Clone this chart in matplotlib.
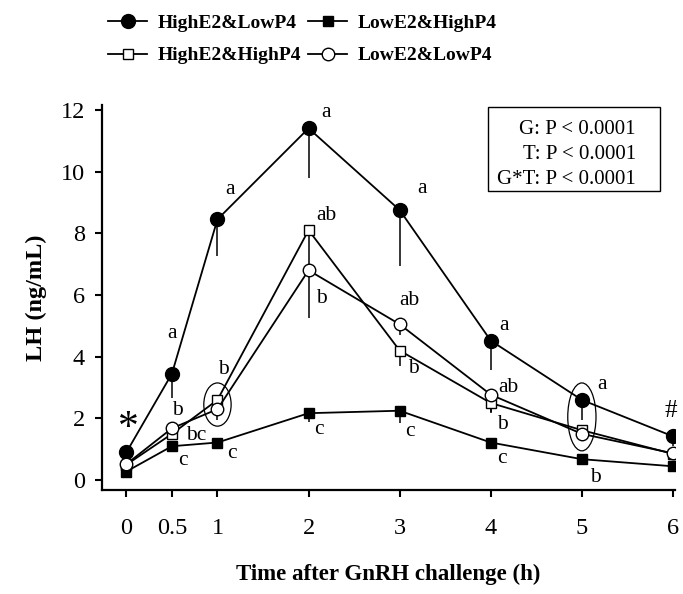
import matplotlib
matplotlib.use("Agg")
import matplotlib.pyplot as plt
from matplotlib.patches import Ellipse, Rectangle

plt.rcParams["font.family"] = ["Liberation Serif", "DejaVu Serif"]

# time points (h)
hours = [0, 0.5, 1, 2, 3, 4, 5, 6]

# LH means (ng/mL)
high_e2_low_p4 = [0.9, 3.45, 8.45, 11.4, 8.75, 4.52, 2.6, 1.42]
low_e2_high_p4 = [0.28, 1.1, 1.22, 2.17, 2.25, 1.22, 0.68, 0.45]
high_e2_high_p4 = [0.5, 1.5, 2.6, 8.1, 4.2, 2.5, 1.62, 0.85]
low_e2_low_p4 = [0.52, 1.68, 2.3, 6.8, 5.05, 2.77, 1.5, 0.87]

# lower error (SEM) for each series
err_hl = [0.1, 0.8, 1.2, 1.6, 1.8, 0.95, 0.65, 0.3]
err_lh = [0.05, 0.1, 0.15, 0.3, 0.4, 0.15, 0.1, 0.1]
err_hh = [0.05, 0.1, 0.3, 1.4, 0.5, 0.3, 0.2, 0.1]
err_ll = [0.05, 0.1, 0.35, 1.55, 0.35, 0.6, 0.2, 0.1]

series_names = ["HighE2&LowP4", "LowE2&HighP4", "HighE2&HighP4", "LowE2&LowP4"]

# significance letters: (series, time index, text)
letters = [
    (0, 0, "*"), (0, 1, "a"), (0, 2, "a"), (0, 3, "a"), (0, 4, "a"),
    (0, 5, "a"), (0, 6, "a"), (0, 7, "#"),
    (3, 1, "b"), (2, 1, "bc"), (1, 1, "c"),
    (2, 2, "b"), (1, 2, "c"),
    (2, 3, "ab"), (3, 3, "b"), (1, 3, "c"),
    (3, 4, "ab"), (2, 4, "b"), (1, 4, "c"),
    (3, 5, "ab"), (2, 5, "b"), (1, 5, "c"),
    (1, 6, "b"),
]
# offsets in pixels for each letter
letter_offsets = [
    (2, 24), (0, 40), (13, 30), (17, 16), (22, 22),
    (13, 15), (20, 15), (-2, 25),
    (6, 18), (24, -2), (11, -14),
    (6, 30), (14, -11),
    (18, 15), (13, -28), (10, -16),
    (10, 24), (14, -18), (10, -21),
    (18, 7), (12, -21), (11, -16),
    (14, -18),
]

stats_text = "G: P < 0.0001\nT: P < 0.0001\nG*T: P < 0.0001"

fig = plt.figure(figsize=(6.83, 5.94), dpi=100)
ax = fig.add_axes([0.149, 0.175, 0.839, 0.648])

data = [high_e2_low_p4, low_e2_high_p4, high_e2_high_p4, low_e2_low_p4]
errs = [err_hl, err_lh, err_hh, err_ll]
styles = [
    dict(marker="o", markersize=10, markerfacecolor="black"),
    dict(marker="s", markersize=7.5, markerfacecolor="black"),
    dict(marker="s", markersize=7.5, markerfacecolor="white"),
    dict(marker="o", markersize=9, markerfacecolor="white"),
]

handles = []
for vals, err, name, st in zip(data, errs, series_names, styles):
    low = [v - e for v, e in zip(vals, err)]
    ax.vlines(hours, low, vals, color="black", lw=1.1, zorder=2)
    h, = ax.plot(hours, vals, color="black", lw=1.3, markeredgecolor="black",
                 markeredgewidth=1.0, label=name, zorder=3, **st)
    handles.append(h)

for (si, ti, txt), (dx, dy) in zip(letters, letter_offsets):
    size = {"*": 30, "#": 18}.get(txt, 15.5)
    ax.annotate(txt, (hours[ti], data[si][ti]), xytext=(dx, dy),
                textcoords="offset pixels", ha="center", va="center",
                fontsize=size, zorder=5, annotation_clip=False)

# ellipses around groups at 1 h and 5 h
for ti, w, hgt in [(2, 0.3, 1.4), (6, 0.31, 2.2)]:
    if ti == 2:
        cy = (high_e2_high_p4[ti] + low_e2_low_p4[ti]) / 2
    else:
        cy = (high_e2_low_p4[ti] + low_e2_low_p4[ti]) / 2
    ax.add_patch(Ellipse((hours[ti], cy), w, hgt, fill=False, ec="black",
                         lw=0.9, zorder=4))

# statistics box
ax.add_patch(Rectangle((0.674, 0.777), 0.30, 0.218, transform=ax.transAxes,
                       fc="white", ec="black", lw=1.0, zorder=6))
ax.text(0.932, 0.962, stats_text, transform=ax.transAxes, ha="right", va="top",
        fontsize=15, linespacing=1.45, zorder=7)

ax.set_xlim(-0.27, 6.02)
ax.set_ylim(-0.32, 12.15)
ax.set_xticks(hours)
ax.set_xticklabels(["0", "0.5", "1", "2", "3", "4", "5", "6"])
ax.set_yticks(range(0, 13, 2))
ax.tick_params(axis="x", length=5, width=1.5, pad=15, labelsize=17.5)
ax.tick_params(axis="y", length=5, width=1.5, pad=7, labelsize=17.5)
for side in ["top", "right"]:
    ax.spines[side].set_visible(False)
for side in ["left", "bottom"]:
    ax.spines[side].set_linewidth(1.6)

ax.set_ylabel("LH (ng/mL)", fontsize=17.5, fontweight="bold", labelpad=10)
ax.set_xlabel("Time after GnRH challenge (h)", fontsize=16.5, fontweight="bold",
              labelpad=18)

order = [0, 2, 1, 3]
fig.legend([handles[i] for i in order], [series_names[i] for i in order],
           ncol=2, loc="upper left", bbox_to_anchor=(0.133, 1.005),
           frameon=False, prop=dict(size=14, weight="bold"),
           handlelength=2.0, handletextpad=0.55, columnspacing=0.35,
           labelspacing=0.75)

fig.savefig("out.png", dpi=100)
